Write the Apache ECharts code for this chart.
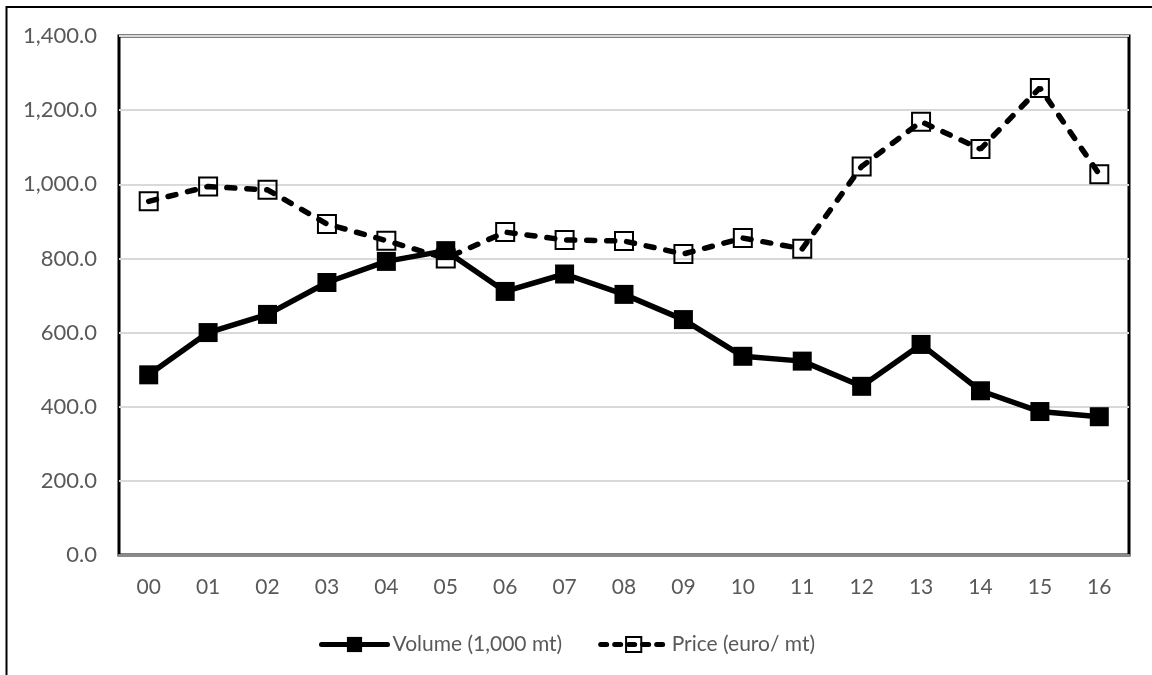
<!DOCTYPE html>
<html>
<head>
<meta charset="utf-8">
<script src="https://cdn.jsdelivr.net/npm/echarts@6/dist/echarts.min.js"></script>
<style>
html,body{margin:0;padding:0;background:#fff;}
#c{width:1152px;height:675px;}
</style>
</head>
<body>
<div id="c"></div>
<script>
const categories = ['00','01','02','03','04','05','06','07','08','09','10','11','12','13','14','15','16'];
const volume = [486, 600, 649, 735, 792, 821, 711, 758, 703, 635, 536, 523, 455, 568, 443, 387, 373];
const price  = [954, 994, 985, 893, 848, 800, 871, 850, 847, 812, 855, 826, 1048, 1169, 1095, 1260, 1027];
const seriesNames = ['Volume (1,000 mt)', 'Price (euro/ mt)'];

const chart = echarts.init(document.getElementById('c'), null, {renderer:'canvas'});
const font = 'Lato, "Open Sans", sans-serif';
chart.setOption({
  backgroundColor:'#ffffff',
  animation:false,
  textStyle:{fontFamily:font},
  graphic:[{
    type:'rect', silent:true, z:-1,
    shape:{x:6.5, y:7, width:1400, height:1000},
    style:{fill:'none', stroke:'#000', lineWidth:2}
  }],
  grid:{left:119, top:36, right:23, bottom:120, show:true, borderColor:'#000', borderWidth:3, backgroundColor:'transparent', containLabel:false},
  legend:{
    data:[
      {name:seriesNames[0], lineStyle:{width:5, cap:'round'}},
      {name:seriesNames[1], lineStyle:{width:5, cap:'round', type:[6,8]}}
    ],
    left:314, top:629, itemWidth:66, itemHeight:19, itemGap:36,
    textStyle:{fontSize:21, color:'#595959', fontFamily:font}
  },
  xAxis:{
    type:'category', data:categories, boundaryGap:true,
    axisLine:{show:true, lineStyle:{color:'#8a8a8a', width:3}},
    axisTick:{show:false},
    axisLabel:{fontSize:21, color:'#595959', margin:22, fontFamily:font},
    splitLine:{show:false}
  },
  yAxis:{
    type:'value', min:0, max:1400, interval:200,
    axisLine:{show:false}, axisTick:{show:false},
    axisLabel:{fontSize:22, color:'#595959', margin:22, fontFamily:font,
      formatter:v=>v.toLocaleString('en-US',{minimumFractionDigits:1,maximumFractionDigits:1})},
    splitLine:{show:true, lineStyle:{color:'#d9d9d9', width:2}}
  },
  series:[
    {
      name:seriesNames[0], type:'line', data:volume, z:3,
      symbol:'rect', symbolSize:19,
      lineStyle:{color:'#000', width:5.5},
      itemStyle:{color:'#000', borderColor:'#000', borderWidth:0}
    },
    {
      name:seriesNames[1], type:'line', data:price, z:2,
      symbol:'rect', symbolSize:18,
      lineStyle:{color:'#000', width:5.5, type:[8,12], cap:'round'},
      itemStyle:{color:'rgba(255,255,255,0)', borderColor:'#000', borderWidth:2}
    }
  ]
});
</script>
</body>
</html>
